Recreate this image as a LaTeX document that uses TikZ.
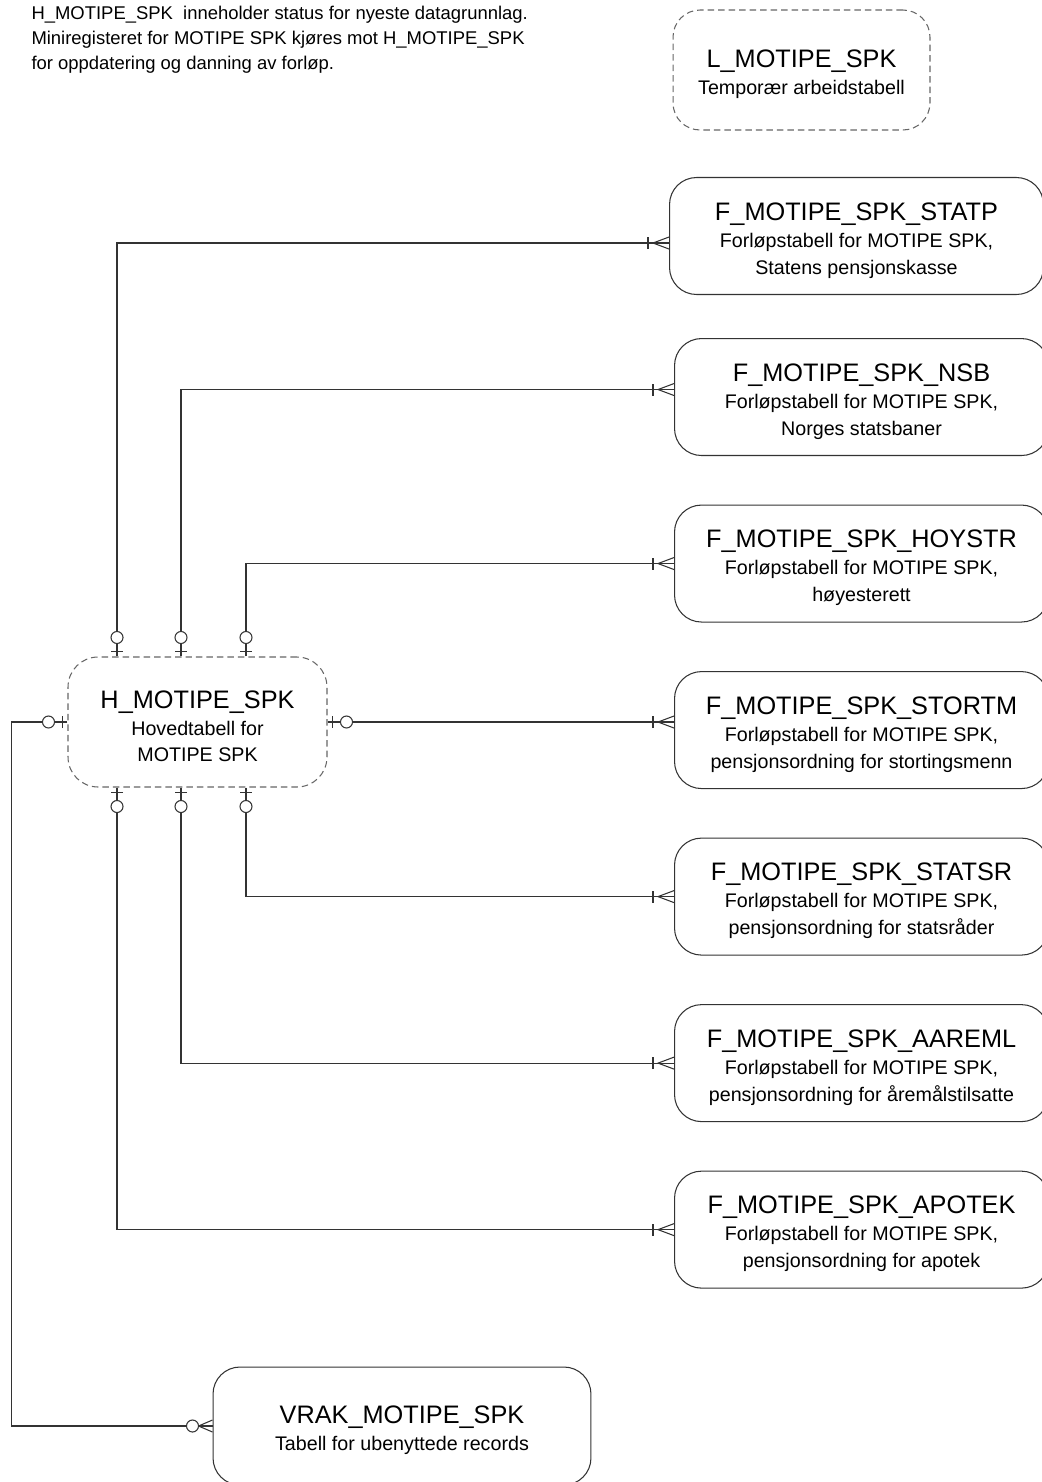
\documentclass[tikz,border=0pt]{standalone}
\usepackage{fontspec}
\setmainfont{Liberation Sans}
\usetikzlibrary{positioning}
\newcommand{\titlefont}{\fontsize{14.4}{15.3}\selectfont\rule{0pt}{15pt}}
\newcommand{\subfont}{\fontsize{11.2}{15.3}\selectfont}
\newcommand{\notefont}{\fontsize{10.5}{14.2}\selectfont}
\definecolor{edgegray}{HTML}{333333}
\definecolor{dashgray}{HTML}{666666}
\tikzset{
  tabbox/.style={draw=edgegray, rounded corners=0.54cm, align=center, inner sep=0pt, minimum width=7.48cm, minimum height=2.34cm, font=\subfont},
  tempbox/.style={tabbox, draw=dashgray, dash pattern=on 0.13cm off 0.08cm, minimum width=5.14cm, minimum height=2.4cm},
  notetext/.style={anchor=north west, align=left, inner sep=0pt, font=\notefont},
  link/.style={draw=edgegray},
  pics/zeroone/.style={code={
    \draw[edgegray] (5,-6) -- (5,6);
    \draw[edgegray, fill=white] (19,0) circle[radius=0.12cm];
  }},
  pics/onemany/.style={code={
    \draw[edgegray] (0,-6) -- (16,0) -- (0,6);
    \draw[edgegray] (21,-6) -- (21,6);
  }},
  pics/zeromany/.style={code={
    \draw[edgegray] (0,-6) -- (14,0) -- (0,6);
    \draw[edgegray, fill=white] (20,0) circle[radius=0.12cm];
  }}
}
\begin{document}
\begin{tikzpicture}[x=0.02cm, y=-0.02cm, line width=0.6pt, node distance=0.97cm]
  \useasboundingbox (0,0) rectangle (1042,1482);

  \node[notetext] (note) at (31,6) {H\_MOTIPE\_SPK\ \ inneholder status for nyeste datagrunnlag.\\Miniregisteret for MOTIPE SPK kjøres mot H\_MOTIPE\_SPK\\for oppdatering og danning av forløp.};
  \node[tempbox] (ltab) at (801.5,70) {{\titlefont L\_MOTIPE\_SPK}\\Temporær arbeidstabell};

  \node[tabbox] (statp) at (856.5,236) {{\titlefont F\_MOTIPE\_SPK\_STATP}\\Forløpstabell for MOTIPE SPK,\\Statens pensjonskasse};
  \node[tabbox, below=0.86cm of statp, xshift=0.1cm] (nsb) {{\titlefont F\_MOTIPE\_SPK\_NSB}\\Forløpstabell for MOTIPE SPK,\\Norges statsbaner};
  \node[tabbox, below=of nsb] (hoystr) {{\titlefont F\_MOTIPE\_SPK\_HOYSTR}\\Forløpstabell for MOTIPE SPK,\\høyesterett};
  \node[tabbox, below=of hoystr] (stortm) {{\titlefont F\_MOTIPE\_SPK\_STORTM}\\Forløpstabell for MOTIPE SPK,\\pensjonsordning for stortingsmenn};
  \node[tabbox, below=of stortm] (statsr) {{\titlefont F\_MOTIPE\_SPK\_STATSR}\\Forløpstabell for MOTIPE SPK,\\pensjonsordning for statsråder};
  \node[tabbox, below=of statsr] (aareml) {{\titlefont F\_MOTIPE\_SPK\_AAREML}\\Forløpstabell for MOTIPE SPK,\\pensjonsordning for åremålstilsatte};
  \node[tabbox, below=of aareml] (apotek) {{\titlefont F\_MOTIPE\_SPK\_APOTEK}\\Forløpstabell for MOTIPE SPK,\\pensjonsordning for apotek};

  \node[tempbox, minimum width=5.18cm, minimum height=2.6cm, rounded corners=0.6cm] (hmain) at (197.5,722) {{\titlefont H\_MOTIPE\_SPK}\\Hovedtabell for\\MOTIPE SPK};
  \node[tabbox, minimum width=7.56cm, minimum height=2.36cm] (vrak) at (402,1426) {{\titlefont VRAK\_MOTIPE\_SPK}\\Tabell for ubenyttede records};

  % relations above and below the main table
  \foreach \f/\dx/\dy in {statp/-1.61/-0.14, nsb/-0.33/0.15, hoystr/0.97/0}{
    \draw[link] ([xshift=\dx cm]hmain.north) |- ([yshift=\dy cm]\f.west);
    \pic[rotate=90] at ([xshift=\dx cm]hmain.north) {zeroone};
    \pic[rotate=180] at ([yshift=\dy cm]\f.west) {onemany};
  }
  \foreach \f/\dx in {statsr/0.97, aareml/-0.33, apotek/-1.61}{
    \draw[link] ([xshift=\dx cm]hmain.south) |- (\f.west);
    \pic[rotate=-90] at ([xshift=\dx cm]hmain.south) {zeroone};
    \pic[rotate=180] at (\f.west) {onemany};
  }

  % side relations
  \draw[link] (hmain.east) -- (hmain.east -| stortm.west);
  \pic at (hmain.east) {zeroone};
  \pic[rotate=180] at (hmain.east -| stortm.west) {onemany};

  \draw[link] (hmain.west) -- ++(-56,0) |- (vrak.west);
  \pic[rotate=180] at (hmain.west) {zeroone};
  \pic[rotate=180] at (vrak.west) {zeromany};
\end{tikzpicture}
\end{document}
